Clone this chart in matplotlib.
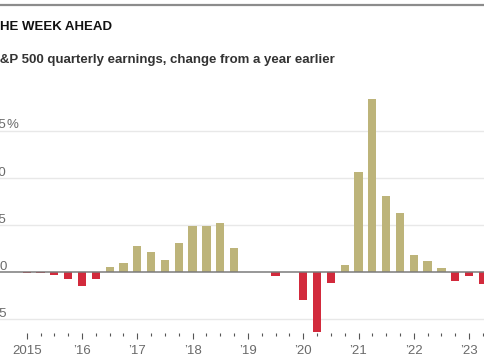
import matplotlib
matplotlib.use("Agg")
import matplotlib.pyplot as plt
import matplotlib.transforms as mtransforms
from matplotlib.lines import Line2D
from matplotlib import font_manager

# ---------------- data ----------------
quarters = [
    "2015Q1", "2015Q2", "2015Q3", "2015Q4",
    "2016Q1", "2016Q2", "2016Q3", "2016Q4",
    "2017Q1", "2017Q2", "2017Q3", "2017Q4",
    "2018Q1", "2018Q2", "2018Q3", "2018Q4",
    "2019Q1", "2019Q2", "2019Q3", "2019Q4",
    "2020Q1", "2020Q2", "2020Q3", "2020Q4",
    "2021Q1", "2021Q2", "2021Q3", "2021Q4",
    "2022Q1", "2022Q2", "2022Q3", "2022Q4",
    "2023Q1", "2023Q2",
]
earnings_change = [
    -0.2, -0.5, -1.4, -3.7,
    -7.3, -3.7, 2.7, 4.8,
    14.0, 11.0, 6.4, 15.6,
    24.8, 24.8, 26.2, 12.9,
    0.4, 0.1, -2.1, 0.4,
    -14.9, -31.7, -5.5, 3.7,
    53.2, 91.8, 40.4, 31.2,
    9.4, 5.9, 2.1, -4.8,
    -2.1, -6.2,
]
year_ticks = [2015, 2016, 2017, 2018, 2019, 2020, 2021, 2022, 2023]
year_labels = ["2015", "\u201916", "\u201917", "\u201918", "\u201919",
               "\u201920", "\u201921", "\u201922", "\u201923"]
y_ticks = [75, 50, 25, 0, -25]
y_labels = ["75", "50", "25", "0", "\u221225"]

title = "THE WEEK AHEAD"
subtitle = "S&P 500 quarterly earnings, change from a year earlier"

# ---------------- style ----------------
names = {f.name for f in font_manager.fontManager.ttflist}
narrow = "Liberation Sans Narrow" if "Liberation Sans Narrow" in names else "Liberation Sans"
FAM = [narrow, "DejaVu Sans"]

GOLD = "#bdb47a"
RED = "#d22a3c"
GRID = "#e8e8e8"
ZERO = "#7a7a7a"
TXT = "#6a6a6a"

W, H, DPI = 485, 360, 100
fig = plt.figure(figsize=(W / DPI, H / DPI), dpi=DPI)
fig.patch.set_facecolor("white")

# layout in pixels
zero_px = 272.3
px_per_pct = 1.886
ax_top_px = 80
ax_bot_px = 332.7
x0_px = 26.7       # 2015 tick
px_per_year = 55.3

ax = fig.add_axes([0, (H - ax_bot_px) / H, 1, (ax_bot_px - ax_top_px) / H])
ax.set_xlim(2015 - x0_px / px_per_year, 2015 + (W - x0_px) / px_per_year)
ax.set_ylim(-(ax_bot_px - zero_px) / px_per_pct, (zero_px - ax_top_px) / px_per_pct)

xs = [2015 + i / 4 for i in range(len(quarters))]
colors = [GOLD if v >= 0 else RED for v in earnings_change]
ax.bar(xs, earnings_change, width=0.15, color=colors, zorder=3, linewidth=0)

for yt in y_ticks:
    if yt == 0:
        ax.axhline(0, color=ZERO, lw=1.1, zorder=4)
    else:
        ax.axhline(yt, color=GRID, lw=1.0, zorder=1)

for s in ax.spines.values():
    s.set_visible(False)
ax.set_yticks([])
ax.set_xticks(year_ticks)
ax.set_xticklabels(year_labels, family=FAM, fontsize=9.5, color=TXT)
ax.set_xticks([2015 + i / 4 for i in range(0, 34) if i % 4 != 0], minor=True)
ax.tick_params(axis="x", which="major", length=4.0, width=0.8, color="#555555", pad=5)
ax.tick_params(axis="x", which="minor", length=2.0, width=0.8, color="#555555")

# y labels: right aligned at ~6 px, above gridline
lab_tr = mtransforms.offset_copy(
    mtransforms.blended_transform_factory(ax.transAxes, ax.transData),
    fig=fig, x=0, y=2.5, units="dots")
xr = 6.5 / W
for yt, lab in zip(y_ticks, y_labels):
    ax.text(xr, yt, lab, transform=lab_tr, ha="right", va="baseline",
            family=FAM, fontsize=9.5, color=TXT)
ax.text(xr, 75, "%", transform=lab_tr, ha="left", va="baseline",
        family=FAM, fontsize=9.5, color=TXT)

# top rule
fig.add_artist(Line2D([0, 1], [1 - 5 / H, 1 - 5 / H], transform=fig.transFigure,
                      color="#8c8c8c", lw=1.6))

renderer = fig.canvas.get_renderer()


def width_px(s, **kw):
    t = fig.text(0, 0, s, **kw)
    w = t.get_window_extent(renderer).width
    t.remove()
    return w


def cut_text(full, y_px, target_visible_w, weight, color, base_size):
    # fit font size so that the text without its first letter is target wide
    kw = dict(family=FAM, weight=weight)
    w_vis = width_px(full[1:], fontsize=base_size, **kw)
    size = base_size * target_visible_w / w_vis
    w_full = width_px(full, fontsize=size, **kw)
    w_rest = width_px(full[1:], fontsize=size, **kw)
    first_w = w_full - w_rest
    fig.text(-first_w / W, 1 - y_px / H, full, fontsize=size, color=color,
             ha="left", va="center", **kw)


cut_text(title, 26.5, 112, "heavy", "#111111", 11)
cut_text(subtitle, 60.0, 337, "bold", "#333333", 9.5)

fig.savefig("out.png", dpi=DPI, facecolor="white")
